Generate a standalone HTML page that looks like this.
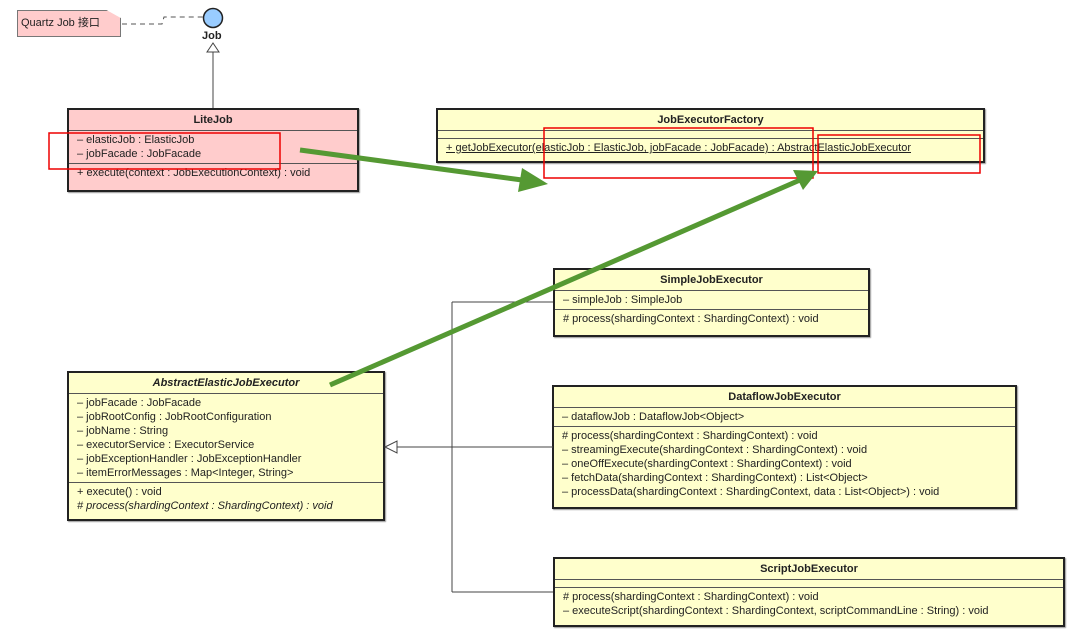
<!DOCTYPE html>
<html><head><meta charset="utf-8"><style>
body{margin:0;width:1078px;height:636px;background:#fff;position:relative;overflow:hidden;font-family:"Liberation Sans","Noto Sans CJK SC",sans-serif;font-size:11px;color:#222}
.b{position:absolute;border:2px solid #222;background:#ffffcc;box-sizing:border-box;box-shadow:1px 1px 1px #999}
.p{background:#ffcccc}
.h{text-align:center;font-weight:bold;border-bottom:1px solid #555;height:20px;line-height:20px}
.s{border-bottom:1px solid #555;padding:2px 8px;line-height:14px;white-space:nowrap}
.s:last-child{border-bottom:none}
svg{position:absolute;left:0;top:0}
</style></head><body>
<div style="position:absolute;left:17px;top:10px;width:104px;height:27px;background:#ffcccc;border:1px solid #777;box-sizing:border-box;line-height:25px;padding-left:3px;clip-path:polygon(0 0,86% 0,100% 30%,100% 100%,0 100%)">Quartz Job 接口</div>
<div style="position:absolute;left:202px;top:30px;font-weight:bold">Job</div>

<div class="b p" style="left:67px;top:108px;width:292px;height:84px">
<div class="h">LiteJob</div>
<div class="s">– elasticJob : ElasticJob<br>– jobFacade : JobFacade</div>
<div class="s">+ execute(context : JobExecutionContext) : void</div>
</div>

<div class="b" style="left:436px;top:108px;width:549px;height:55px">
<div class="h">JobExecutorFactory</div>
<div class="s" style="height:3px;padding:2px"></div>
<div class="s" style="text-decoration:underline">+ getJobExecutor(elasticJob : ElasticJob, jobFacade : JobFacade) : AbstractElasticJobExecutor</div>
</div>

<div class="b" style="left:553px;top:268px;width:317px;height:69px">
<div class="h">SimpleJobExecutor</div>
<div class="s">– simpleJob : SimpleJob</div>
<div class="s"># process(shardingContext : ShardingContext) : void</div>
</div>

<div class="b" style="left:67px;top:371px;width:318px;height:150px">
<div class="h" style="font-style:italic">AbstractElasticJobExecutor</div>
<div class="s">– jobFacade : JobFacade<br>– jobRootConfig : JobRootConfiguration<br>– jobName : String<br>– executorService : ExecutorService<br>– jobExceptionHandler : JobExceptionHandler<br>– itemErrorMessages : Map&lt;Integer, String&gt;</div>
<div class="s">+ execute() : void<br><i># process(shardingContext : ShardingContext) : void</i></div>
</div>

<div class="b" style="left:552px;top:385px;width:465px;height:124px">
<div class="h">DataflowJobExecutor</div>
<div class="s">– dataflowJob : DataflowJob&lt;Object&gt;</div>
<div class="s"># process(shardingContext : ShardingContext) : void<br>– streamingExecute(shardingContext : ShardingContext) : void<br>– oneOffExecute(shardingContext : ShardingContext) : void<br>– fetchData(shardingContext : ShardingContext) : List&lt;Object&gt;<br>– processData(shardingContext : ShardingContext, data : List&lt;Object&gt;) : void</div>
</div>

<div class="b" style="left:553px;top:557px;width:512px;height:70px">
<div class="h">ScriptJobExecutor</div>
<div class="s" style="height:3px;padding:2px"></div>
<div class="s"># process(shardingContext : ShardingContext) : void<br>– executeScript(shardingContext : ShardingContext, scriptCommandLine : String) : void</div>
</div>

<svg width="1078" height="636">
<path d="M122 24 H162 L164 17 H203" fill="none" stroke="#555" stroke-dasharray="5,4"/>
<circle cx="213" cy="18" r="9.5" fill="#99ccff" stroke="#222" stroke-width="1.5"/>
<line x1="213" y1="52" x2="213" y2="108" stroke="#444"/>
<polygon points="213,43 207,52 219,52" fill="#fff" stroke="#444"/>
<path d="M397 447 H553 M452 302 V592 M452 302 H553 M452 592 H553" fill="none" stroke="#444"/>
<polygon points="385,447 397,441 397,453" fill="#fff" stroke="#444"/>
<rect x="49" y="133" width="231" height="36" fill="none" stroke="#e00" stroke-width="1.5"/>
<rect x="544" y="128" width="269" height="50" fill="none" stroke="#e00" stroke-width="1.5"/>
<rect x="818" y="135" width="162" height="38" fill="none" stroke="#e00" stroke-width="1.5"/>
<line x1="300" y1="150" x2="522" y2="180" stroke="#559933" stroke-width="5"/>
<polygon points="548,184 518,192 522,168" fill="#559933"/>
<line x1="330" y1="385" x2="800" y2="180" stroke="#559933" stroke-width="5"/>
<polygon points="818,171 793,170 803,190" fill="#559933"/>
</svg>
</body></html>
